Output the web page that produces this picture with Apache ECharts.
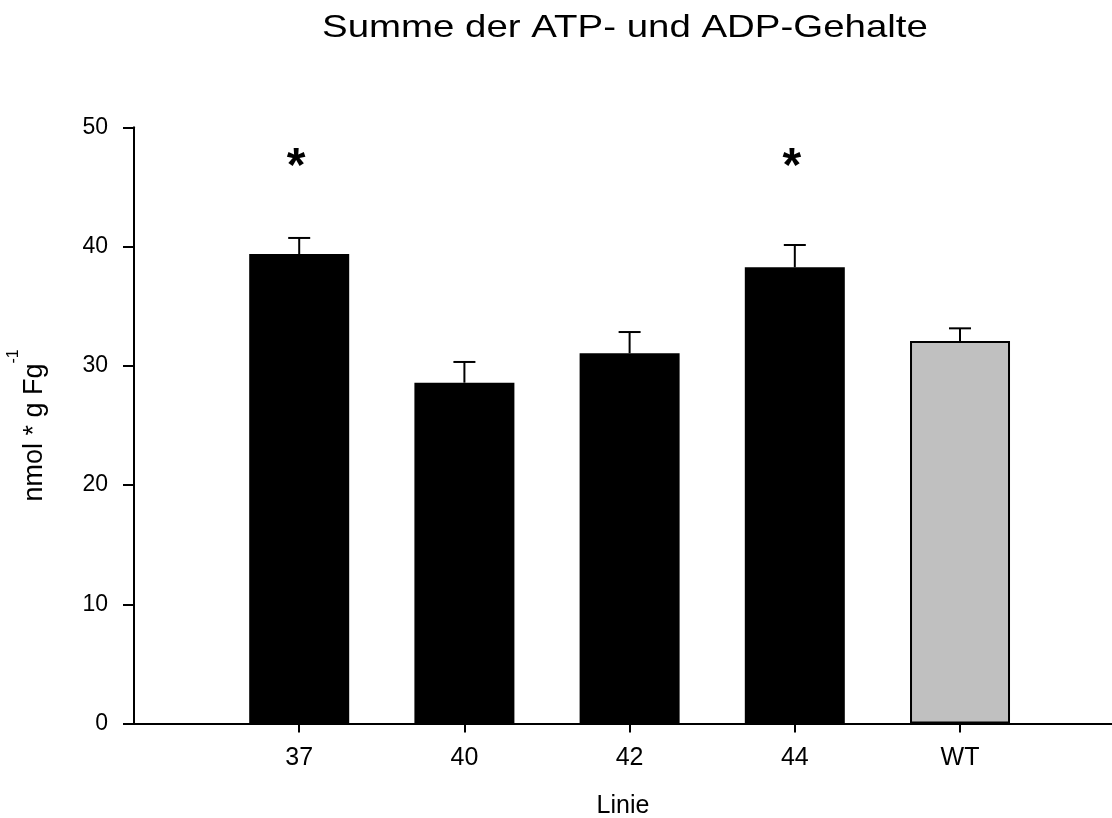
<!DOCTYPE html>
<html>
<head>
<meta charset="utf-8">
<script src="https://cdn.jsdelivr.net/npm/echarts@6/dist/echarts.min.js"></script>
<style>
  html, body { margin: 0; padding: 0; background: #fff; }
  #chart { width: 1112px; height: 818px; }
</style>
</head>
<body>
<div id="chart"></div>
<script>
// Lines and their summed ATP + ADP contents (mean and standard error)
const categories = ['37', '40', '42', '44', 'WT'];
const means = [39.37, 28.58, 31.05, 38.26, 32.08];
const errors = [1.35, 1.74, 1.78, 1.87, 1.06];
const significance = ['*', '', '', '*', ''];
const yTicks = [0, 10, 20, 30, 40, 50];

const FONT = "'Liberation Sans', Arial, sans-serif";
const barColors = ['#000000', '#000000', '#000000', '#000000', '#c0c0c0'];
const starLevel = 46.6;   // height at which significance marks sit

const positions = categories.map((_, i) => i);

const barData = means.map((m, i) => ({
  value: [i, m],
  itemStyle: {
    color: barColors[i],
    borderColor: '#000',
    borderWidth: i === 4 ? 2 : 0
  }
}));

const errData = means.map((m, i) => [i, m, m + errors[i]]);
const starData = significance.map((s, i) => [i, starLevel, s]);

const chart = echarts.init(document.getElementById('chart'), null, { renderer: 'canvas' });

chart.setOption({
  backgroundColor: '#fff',
  animation: false,
  graphic: [
    {
      // chart title, drawn slightly widened
      type: 'text',
      x: 322,
      y: 12,
      scaleX: 1.22,
      style: {
        text: 'Summe der ATP- und ADP-Gehalte',
        fontFamily: FONT,
        fontSize: 31.5,
        fill: '#000',
        align: 'left',
        verticalAlign: 'top'
      }
    }
  ],
  grid: {
    left: 134, right: 0, top: 127.3, bottom: 94.5,
    containLabel: false,
    outerBoundsMode: 'none'
  },
  xAxis: {
    type: 'value',
    min: -1,
    max: 4.92,
    interval: 1,
    name: 'Linie',
    nameLocation: 'middle',
    nameGap: 70,
    nameTextStyle: { fontFamily: FONT, fontSize: 25, color: '#000' },
    axisLine: { show: true, onZero: false, lineStyle: { color: '#000', width: 2 } },
    axisTick: { show: true, inside: false, length: 9, customValues: positions, lineStyle: { color: '#000', width: 2 } },
    axisLabel: {
      customValues: positions,
      margin: 22,
      fontFamily: FONT, fontSize: 25, color: '#000',
      formatter: v => categories[Math.round(v)] || ''
    },
    splitLine: { show: false }
  },
  yAxis: {
    type: 'value',
    min: 0,
    max: 50,
    interval: 10,
    name: '{a|nmol * g Fg}{sup|-1}',
    nameLocation: 'middle',
    nameGap: 86,
    nameRotate: 90,
    nameTextStyle: {
      color: '#000',
      rich: {
        a: { fontFamily: FONT, fontSize: 27, lineHeight: 42, verticalAlign: 'bottom', color: '#000' },
        sup: { fontFamily: FONT, fontSize: 16, lineHeight: 18, verticalAlign: 'top', color: '#000' }
      }
    },
    axisLine: { show: true, onZero: false, lineStyle: { color: '#000', width: 2 } },
    axisTick: { show: true, inside: false, length: 11, lineStyle: { color: '#000', width: 2 } },
    axisLabel: {
      margin: 26,
      fontFamily: FONT, fontSize: 23, color: '#000',
      formatter: v => yTicks.includes(v) ? String(v) : ''
    },
    splitLine: { show: false }
  },
  series: [
    {
      type: 'bar',
      barWidth: 100,
      data: barData,
      z: 2
    },
    {
      // error bars: stem from bar top to mean + error, with a horizontal cap
      type: 'custom',
      z: 3,
      data: errData,
      renderItem: (params, api) => {
        const x = api.value(0);
        const base = api.coord([x, api.value(1)]);
        const top = api.coord([x, api.value(2)]);
        const half = 11;
        return {
          type: 'group',
          children: [
            { type: 'line', shape: { x1: base[0], y1: base[1], x2: top[0], y2: top[1] },
              style: { stroke: '#000', lineWidth: 2 } },
            { type: 'line', shape: { x1: top[0] - half, y1: top[1], x2: top[0] + half, y2: top[1] },
              style: { stroke: '#000', lineWidth: 2 } }
          ]
        };
      }
    },
    {
      // significance marks above the bars
      type: 'custom',
      z: 4,
      data: starData,
      renderItem: (params, api) => {
        const p = api.coord([api.value(0), api.value(1)]);
        const s = significance[params.dataIndex];
        return {
          type: 'text',
          x: p[0] - 3,
          y: p[1],
          style: {
            text: s,
            fontFamily: FONT,
            fontSize: 48,
            fontWeight: 'bold',
            fill: '#000',
            align: 'center',
            verticalAlign: 'middle'
          }
        };
      }
    }
  ]
});
</script>
</body>
</html>
